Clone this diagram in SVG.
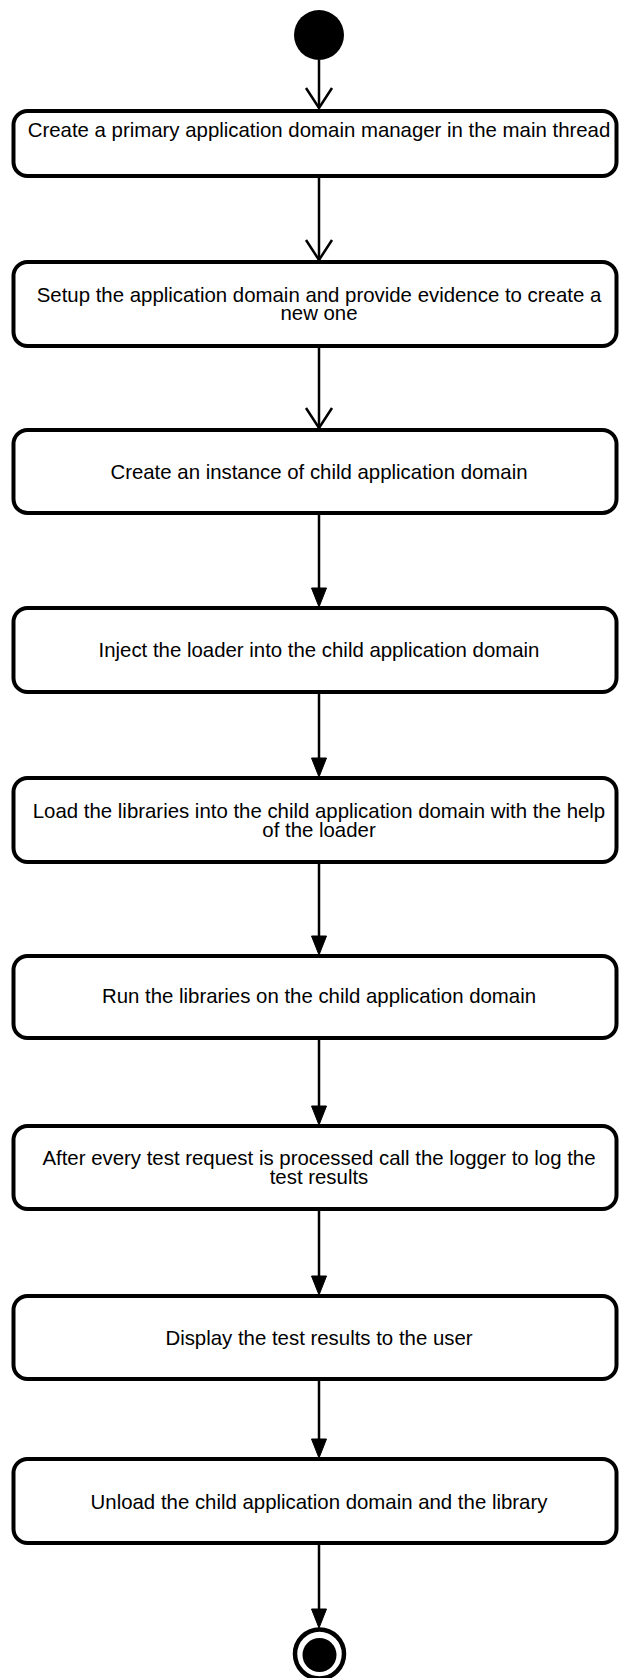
<svg xmlns="http://www.w3.org/2000/svg" width="619" height="1678" viewBox="0 0 619 1678">
<style>
.box{fill:#fff;stroke:#000;stroke-width:4}
.t{font-family:"Liberation Sans",Arial,sans-serif;font-size:20.4px;fill:#000;text-anchor:middle}
.ln{stroke:#000;stroke-width:2.5;fill:none}
.open{stroke:#000;stroke-width:2.5;fill:none}
.tri{fill:#000;stroke:#000;stroke-width:1}
</style>
<rect width="619" height="1678" fill="#fff"/>
<g id="start"><circle cx="319" cy="35" r="25" fill="#000"/></g>
<g id="n1"><rect class="box" x="13.5" y="111" width="603" height="65" rx="14"/><text class="t" x="319" y="137">Create a primary application domain manager in the main thread</text></g>
<g id="n2"><rect class="box" x="13.5" y="262" width="603" height="84" rx="14"/><text class="t" x="319" y="302">Setup the application domain and provide evidence to create a</text><text class="t" x="319" y="320">new one</text></g>
<g id="n3"><rect class="box" x="13.5" y="430" width="603" height="83" rx="14"/><text class="t" x="319" y="479">Create an instance of child application domain</text></g>
<g id="n4"><rect class="box" x="13.5" y="608" width="603" height="84" rx="14"/><text class="t" x="319" y="657">Inject the loader into the child application domain</text></g>
<g id="n5"><rect class="box" x="13.5" y="778" width="603" height="84" rx="14"/><text class="t" x="319" y="818">Load the libraries into the child application domain with the help</text><text class="t" x="319" y="836.5">of the loader</text></g>
<g id="n6"><rect class="box" x="13.5" y="956" width="603" height="82" rx="14"/><text class="t" x="319" y="1003">Run the libraries on the child application domain</text></g>
<g id="n7"><rect class="box" x="13.5" y="1126" width="603" height="83" rx="14"/><text class="t" x="319" y="1165">After every test request is processed call the logger to log the</text><text class="t" x="319" y="1184">test results</text></g>
<g id="n8"><rect class="box" x="13.5" y="1296" width="603" height="83" rx="14"/><text class="t" x="319" y="1345">Display the test results to the user</text></g>
<g id="n9"><rect class="box" x="13.5" y="1459" width="603" height="84" rx="14"/><text class="t" x="319" y="1509">Unload the child application domain and the library</text></g>
<g id="end"><circle cx="319.5" cy="1654" r="24.5" fill="#fff" stroke="#000" stroke-width="4.5"/><circle cx="319.5" cy="1655" r="17" fill="#000"/></g>
<g id="connectors">
<line class="ln" x1="319" y1="60" x2="319" y2="108"/>
<polyline class="open" points="306,88 319,108 332,88"/>
<line class="ln" x1="319" y1="176" x2="319" y2="260"/>
<polyline class="open" points="306,240 319,260 332,240"/>
<line class="ln" x1="319" y1="346" x2="319" y2="428"/>
<polyline class="open" points="306,408 319,428 332,408"/>
<line class="ln" x1="319" y1="513" x2="319" y2="590"/>
<polygon class="tri" points="311.5,588 326.5,588 319,607"/>
<line class="ln" x1="319" y1="692" x2="319" y2="760"/>
<polygon class="tri" points="311.5,758 326.5,758 319,777"/>
<line class="ln" x1="319" y1="862" x2="319" y2="938"/>
<polygon class="tri" points="311.5,936 326.5,936 319,955"/>
<line class="ln" x1="319" y1="1038" x2="319" y2="1108"/>
<polygon class="tri" points="311.5,1106 326.5,1106 319,1125"/>
<line class="ln" x1="319" y1="1209" x2="319" y2="1278"/>
<polygon class="tri" points="311.5,1276 326.5,1276 319,1295"/>
<line class="ln" x1="319" y1="1379" x2="319" y2="1441"/>
<polygon class="tri" points="311.5,1439 326.5,1439 319,1458"/>
<line class="ln" x1="319" y1="1543" x2="319" y2="1611"/>
<polygon class="tri" points="311.5,1609 326.5,1609 319,1628"/>
</g>
</svg>
